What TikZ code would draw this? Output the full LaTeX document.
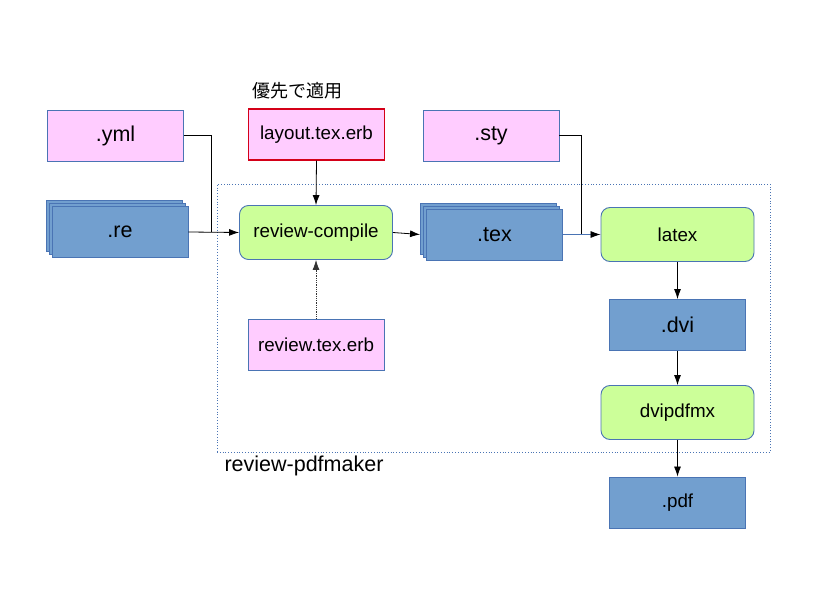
\documentclass[tikz,border=0pt]{standalone}
\usepackage{fontspec}
\setmainfont{Liberation Sans}
\newfontfamily\cjk{Noto Sans CJK JP}
\usetikzlibrary{arrows.meta,shadows,positioning}
\definecolor{pinkfill}{HTML}{FFCCFF}
\definecolor{bluefill}{HTML}{729FCF}
\definecolor{greenfill}{HTML}{CCFF99}
\definecolor{edgeblue}{HTML}{4A74B4}
\definecolor{rededge}{HTML}{D40018}
\tikzset{
  base/.style={inner sep=0pt, line width=0.9pt, draw=edgeblue, text=black},
  pinkbox/.style={base, rectangle, fill=pinkfill, minimum width=136pt, minimum height=51pt},
  bluebox/.style={base, rectangle, fill=bluefill, minimum width=136pt, minimum height=51pt},
  stackbox/.style={bluebox, double copy shadow={shadow xshift=-3pt, shadow yshift=3pt}},
  greenbox/.style={base, rectangle, rounded corners=9pt, fill=greenfill, minimum width=153pt, minimum height=54pt},
  big/.style={font=\fontsize{21.5}{24}\selectfont},
  mid/.style={font=\fontsize{18.8}{22}\selectfont},
  conn/.style={line width=0.8pt, draw=black, -{Latex[length=10pt,width=7pt]}},
  plain/.style={line width=0.8pt, draw=black},
}
\begin{document}
\begin{tikzpicture}[x=1pt,y=-1pt]
\useasboundingbox (0,0) rectangle (816,612);
% frame
\node[draw=edgeblue, dotted, line width=0.8pt, minimum width=553pt, minimum height=268pt, inner sep=0pt] (pm) at (493.5,318) {};
\node[anchor=west, font=\fontsize{21.5}{24}\selectfont] (pmlabel) at (221,466) {review-pdfmaker};
% nodes
\node[pinkbox, big] (yml) at (115.5,135.5) {.yml};
\node[pinkbox, mid, draw=rededge, line width=1.1pt] (layout) at (316.5,134.5) {layout.tex.erb};
\node[font=\cjk\fontsize{18}{20}\selectfont] (prio) at (297,91) {優先で適用};
\node[pinkbox, big] (sty) at (491,135.5) {.sty};
\node[stackbox, big] (re) at (120,232) {.re};
\node[greenbox, mid] (rc) at (316,232.5) {review-compile};
\node[stackbox, big] (tex) at (494.5,234.5) {.tex};
\node[greenbox, mid] (latex) at (677.5,234.5) {latex};
\node[pinkbox, mid] (rte) at (316,344.5) {review.tex.erb};
\node[bluebox, big] (dvi) at (677.5,325) {.dvi};
\node[greenbox, mid] (dvipdf) at (677.5,412.5) {dvipdfmx};
\node[bluebox, mid] (pdf) at (677.5,502.5) {.pdf};
% junctions
\coordinate (j1) at (211,232);
\coordinate (j2) at (581,234.5);
% connectors
\draw[plain] (yml.east) -| (j1);
\draw[conn] (re.east) -- (rc.west);
\draw[conn] (layout.south) -- (rc.north);
\draw[conn, densely dotted, line width=0.7pt, draw=black!80] (rte.north) -- (rc.south);
\draw[conn] (rc.east) -- ([xshift=-6pt]tex.west);
\draw[plain] (sty.east) -| (j2);
\draw[line width=0.8pt, draw=edgeblue, -{Latex[length=10pt,width=7pt,black]}] (tex.east) -- (latex.west);
\draw[conn] (latex.south) -- (dvi.north);
\draw[conn] (dvi.south) -- (dvipdf.north);
\draw[conn] (dvipdf.south) -- (pdf.north);
\end{tikzpicture}
\end{document}
